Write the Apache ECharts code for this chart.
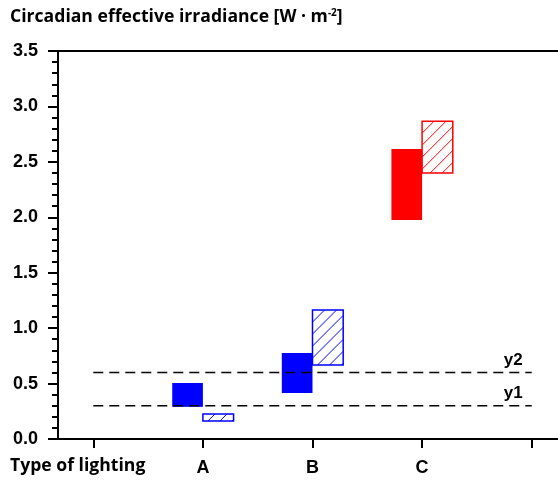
<!DOCTYPE html>
<html>
<head>
    <meta charset="utf-8">
    <title>Circadian effective irradiance</title>
    <script src="https://cdn.jsdelivr.net/npm/echarts@6/dist/echarts.min.js"></script>
    <style type="text/css">
        body{ margin:0; background:#fff; }
        #main{ width:558px; height:482px; }
    </style>
</head>
<body>
<div id="main"></div>
<script>
    // data
    var categories = ['A', 'B', 'C'];
    var catPos = [1, 2, 3];
    var barColors = ['#0000ff', '#0000ff', '#ff0000'];
    var solidLow = [0.29, 0.415, 1.975];
    var solidHigh = [0.505, 0.775, 2.615];
    var hatchLow = [0.162, 0.667, 2.40];
    var hatchHigh = [0.225, 1.163, 2.867];
    var limitValues = [0.3, 0.6];
    var limitNames = ['y1', 'y2'];
    var xTicks = [0, 1, 2, 3, 4];
    var yTicks = [0, 0.5, 1, 1.5, 2, 2.5, 3, 3.5];

    var myChart = echarts.init(document.getElementById('main'));

    function boxData(low, high) {
        return catPos.map(function (x, i) { return [x, low[i], high[i], i]; });
    }

    function renderBox(hatched) {
        return function (params, api) {
            var x = api.value(0), lo = api.value(1), hi = api.value(2);
            var color = barColors[api.value(3)];
            var w = api.size([1, 0])[0] * 0.28;
            var top = api.coord([x, hi]);
            var bot = api.coord([x, lo]);
            var x0 = hatched ? top[0] : top[0] - w;
            var y0 = top[1], h = bot[1] - top[1];
            if (!hatched) {
                return { type: 'rect', shape: { x: x0, y: y0, width: w, height: h }, style: { fill: color } };
            }
            var kids = [];
            var x1 = x0 + w, y1 = y0 + h, s = 12;
            for (var k = x0 + y0 + s; k < x1 + y1; k += s) {
                var xa = Math.max(x0, k - y1), xb = Math.min(x1, k - y0);
                if (xb > xa) {
                    kids.push({ type: 'line', shape: { x1: xa, y1: k - xa, x2: xb, y2: k - xb },
                        style: { stroke: color, lineWidth: 1 } });
                }
            }
            kids.push({ type: 'rect', shape: { x: x0, y: y0, width: w, height: h },
                style: { fill: 'none', stroke: color, lineWidth: 1.5 } });
            return { type: 'group', children: kids };
        };
    }

    var labelFont = { color: '#000', fontWeight: 'bold', fontSize: 18, fontFamily: 'Liberation Sans, Arial' };
    var textFont = 'Open Sans';

    var option = {
        animation: false,
        grid: { left: 58, right: 0, top: 51, bottom: 43 },
        graphic: [
            { type: 'text', left: 10, top: 8, style: {
                text: '{t|Circadian effective irradiance [W · m}{s|-2}{t|]}',
                rich: {
                    t: { fontFamily: textFont, fontWeight: 'bold', fontSize: 17.6, fill: '#000' },
                    s: { fontFamily: textFont, fontWeight: 'bold', fontSize: 10, fill: '#000', verticalAlign: 'top', padding: [0, 0, 8, 0] }
                } } },
            { type: 'text', left: 10, top: 457, style: {
                text: 'Type of lighting', fontFamily: textFont, fontWeight: 'bold', fontSize: 17.6, fill: '#000' } }
        ],
        xAxis: [{
            type: 'value',
            min: -0.322,
            max: 4.24,
            splitLine: { show: false },
            axisLine: { show: true, onZero: false, lineStyle: { color: '#000', width: 2 } },
            axisTick: { show: true, customValues: xTicks, length: 9, lineStyle: { color: '#000', width: 2 } },
            axisLabel: Object.assign({ customValues: catPos, margin: 20,
                formatter: function (v) { return categories[catPos.indexOf(v)] || ''; } }, labelFont)
        }, {
            type: 'value',
            position: 'top',
            min: -0.322,
            max: 4.24,
            splitLine: { show: false },
            axisLine: { show: true, onZero: false, lineStyle: { color: '#000', width: 2 } },
            axisTick: { show: false },
            axisLabel: { show: false }
        }],
        yAxis: {
            type: 'value',
            min: yTicks[0],
            max: yTicks[yTicks.length - 1],
            interval: 0.5,
            splitLine: { show: false },
            axisLine: { show: true, onZero: false, lineStyle: { color: '#000', width: 2 } },
            axisTick: { show: true, length: 10, lineStyle: { color: '#000', width: 2 } },
            minorTick: { show: true, splitNumber: 5, length: 6, lineStyle: { color: '#000', width: 2 } },
            axisLabel: Object.assign({ margin: 20, formatter: function (v) { return v.toFixed(1); } }, labelFont)
        },
        series: [{
            type: 'custom',
            renderItem: renderBox(false),
            data: boxData(solidLow, solidHigh),
            z: 3
        }, {
            type: 'custom',
            renderItem: renderBox(true),
            data: boxData(hatchLow, hatchHigh),
            z: 3
        }].concat(limitValues.map(function (v, i) {
            return {
                type: 'line',
                data: [[xTicks[0], v], [xTicks[xTicks.length - 1], v]],
                symbol: 'none',
                silent: true,
                z: 4,
                lineStyle: { color: '#000', width: 1.5, type: [10, 6] },
                endLabel: { show: true, formatter: limitNames[i], color: '#000', fontWeight: 'bold',
                    fontSize: 17, fontFamily: 'Liberation Sans, Arial', offset: [-36, -12] }
            };
        }))
    };
    myChart.setOption(option);
</script>
</body>
</html>
